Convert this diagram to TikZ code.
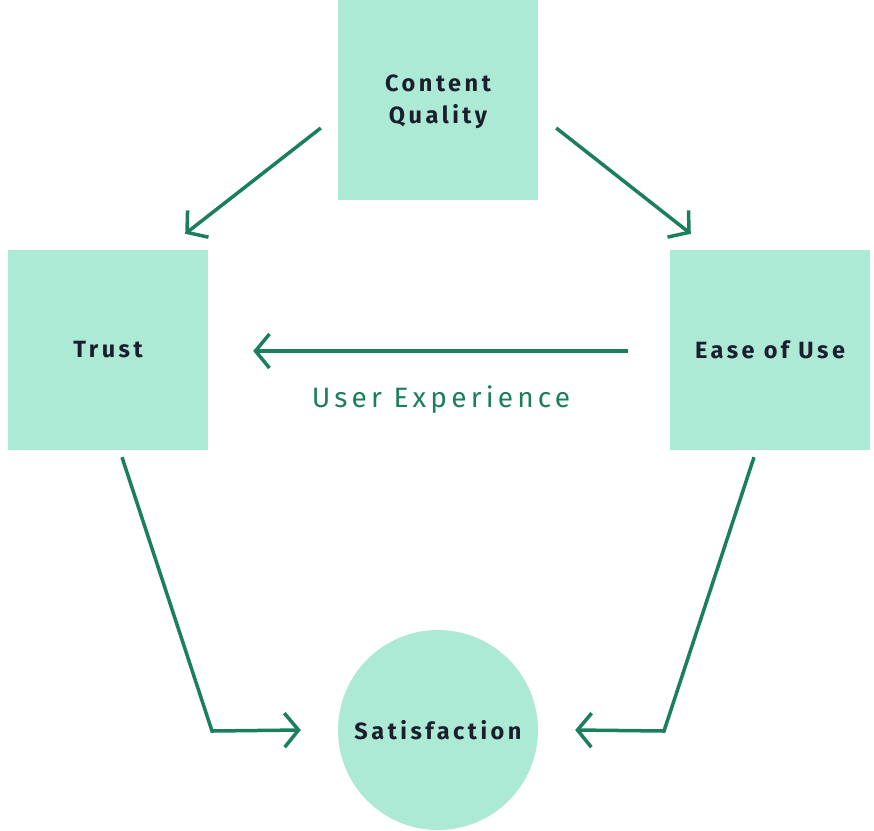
\documentclass[tikz,border=0pt]{standalone}
\usepackage{fontspec}
\setmainfont{Fira Sans}[LetterSpace=15]
\usetikzlibrary{arrows.meta,calc}
\definecolor{boxfill}{HTML}{ADEAD6}
\definecolor{linegreen}{HTML}{1B7F5C}
\definecolor{txt}{HTML}{1A1F2B}
\tikzset{
  lbl/.style={align=center, text=txt, inner sep=0pt, font=\fontsize{23.5}{32}\selectfont\bfseries},
  sq/.style={lbl, fill=boxfill, draw=none, minimum size=200pt},
  circ/.style={lbl, circle, fill=boxfill, draw=none, minimum size=200pt},
  conn/.style={draw=linegreen, line width=3.5pt, -{Straight Barb[length=14pt,width=34pt,line width=3.5pt]}},
}
\begin{document}
\begin{tikzpicture}[x=1pt,y=-1pt]
\useasboundingbox (0,0) rectangle (874,830);
\node[sq] (cq) at (438,100) {};
\node[lbl, yshift=-2pt] (cqt) at (cq.center) {Content\\Quality};
\node[sq] (trust) at (108,350) {Trust};
\node[sq] (ease) at (770,350) {Ease of Use};
\node[circ] (sat) at (438,730) {Satisfaction};
\node[text=linegreen, font=\fontsize{28}{30}\selectfont] (ux) at (441,400) {User Experience};
\coordinate (a1) at ($(cq.west)+(-17,28)$);
\coordinate (a1e) at ($(trust.north east)+(-23,-16)$);
\coordinate (a2) at ($(cq.east)+(18,28)$);
\coordinate (a2e) at ($(ease.north west)+(21,-16)$);
\coordinate (b1) at ($(ease.west)+(-42,1)$);
\coordinate (b1e) at ($(trust.east)+(45,1)$);
\coordinate (c1) at ($(trust.south)+(14,7)$);
\coordinate (c1m) at (212,731);
\coordinate (c1e) at ($(sat.west)+(-37,0)$);
\coordinate (d1) at ($(ease.south)+(-16,7)$);
\coordinate (d1m) at (664,731);
\coordinate (d1e) at ($(sat.east)+(37,0)$);
\draw[conn] (a1) -- (a1e);
\draw[conn] (a2) -- (a2e);
\draw[conn] (b1) -- (b1e);
\draw[conn] (c1) -- (c1m) -- (c1e);
\draw[conn] (d1) -- (d1m) -- (d1e);
\end{tikzpicture}
\end{document}
